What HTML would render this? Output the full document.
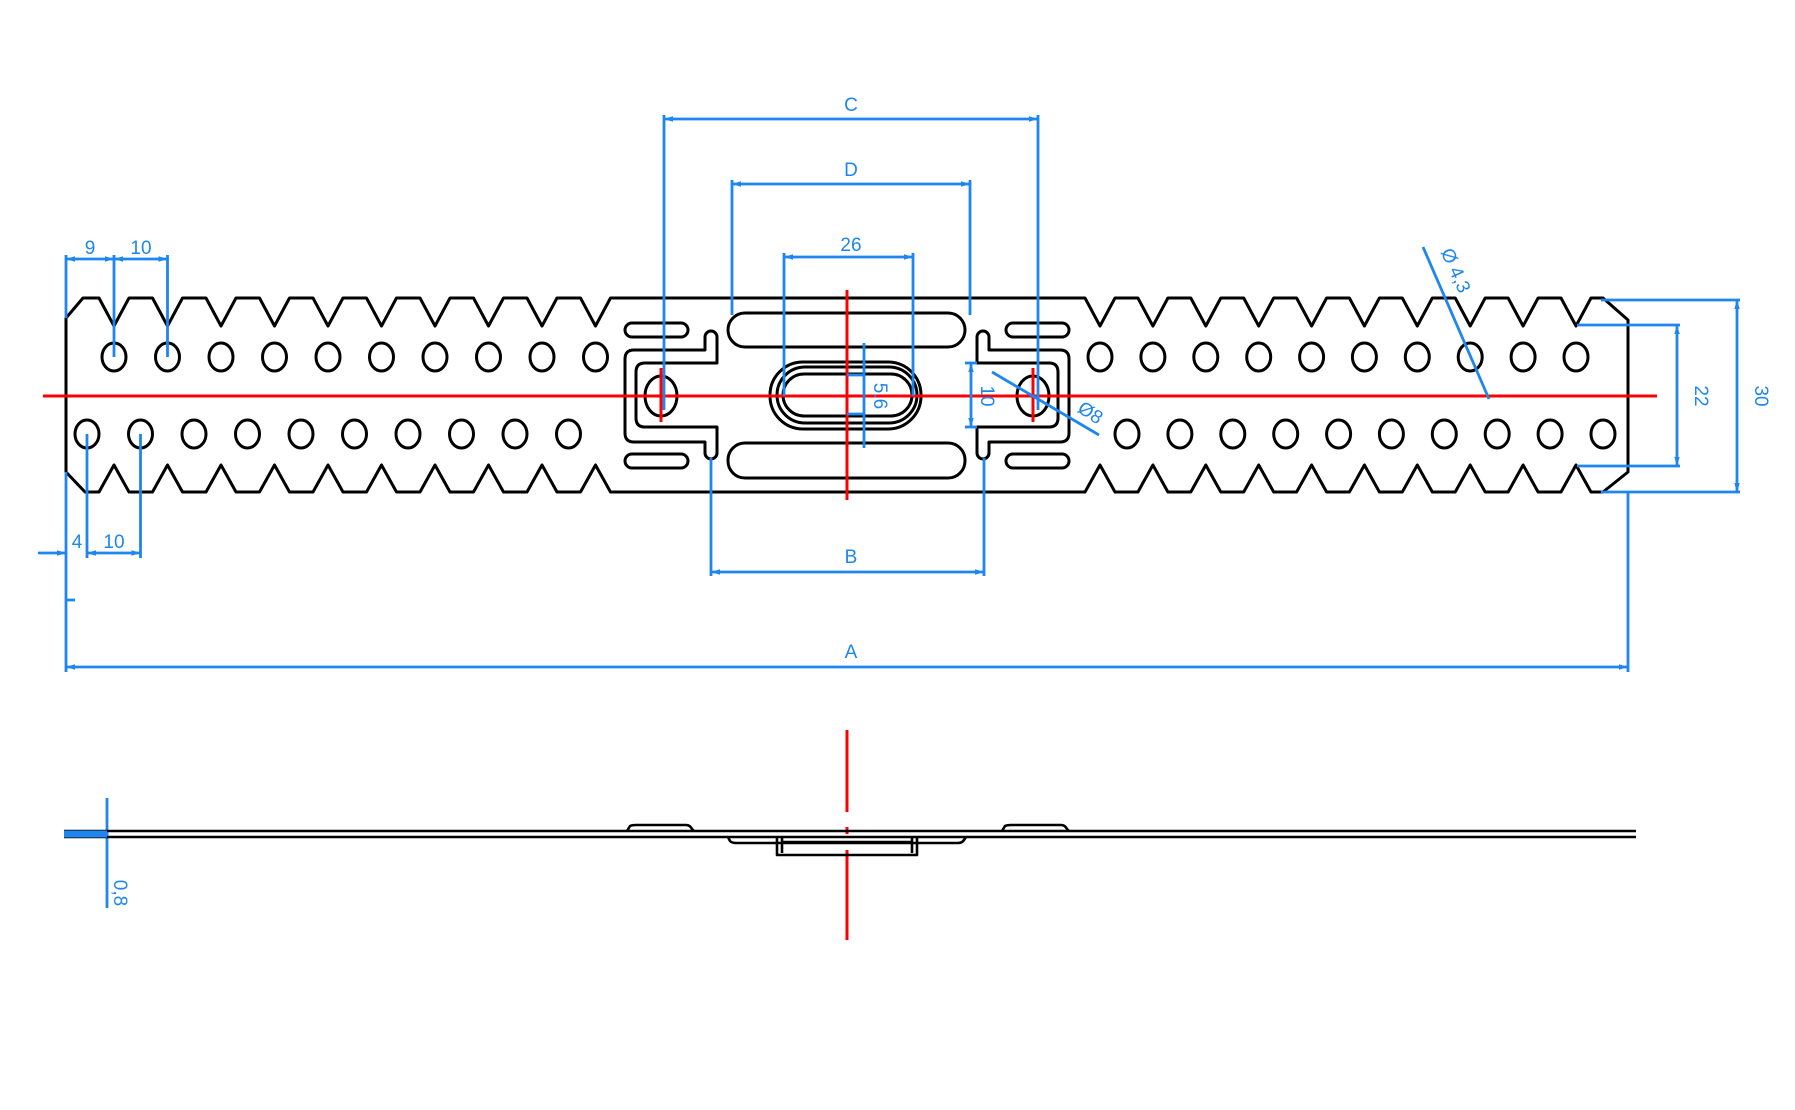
<!DOCTYPE html>
<html><head><meta charset="utf-8"><style>
html,body{margin:0;padding:0;background:#fff;}
svg{display:block;}
text{font-family:"Liberation Sans",sans-serif;font-size:19px;fill:#1e86ee;}
</style></head><body>
<svg width="1795" height="1110" viewBox="0 0 1795 1110" xmlns="http://www.w3.org/2000/svg">
<defs>
<marker id="ar" viewBox="0 0 10 10" refX="10" refY="5" markerWidth="9" markerHeight="9" orient="auto-start-reverse" markerUnits="userSpaceOnUse"><path d="M0,2 L10,5 L0,8 Z" fill="#1e86ee"/></marker>
</defs>
<rect width="1795" height="1110" fill="#fff"/>
<g fill="none" stroke="#000" stroke-width="3" stroke-linejoin="round">
<path d="M66,318 L83,298 L99,298 L114,326 L129,298 L152.5,298 L167.5,326 L182.5,298 L206,298 L221,326 L236,298 L259.5,298 L274.5,326 L289.5,298 L313,298 L328,326 L343,298 L366.5,298 L381.5,326 L396.5,298 L420,298 L435,326 L450,298 L473.5,298 L488.5,326 L503.5,298 L527,298 L542,326 L557,298 L580.5,298 L595.5,326 L610.5,298
L1085,298 L1100,326 L1115,298 L1137.9,298 L1152.9,326 L1167.9,298 L1190.8,298 L1205.8,326 L1220.8,298 L1243.7,298 L1258.7,326 L1273.7,298 L1296.6,298 L1311.6,326 L1326.6,298 L1349.4,298 L1364.4,326 L1379.4,298 L1402.3,298 L1417.3,326 L1432.3,298 L1455.2,298 L1470.2,326 L1485.2,298 L1508.1,298 L1523.1,326 L1538.1,298 L1561,298 L1576,326 L1591,298 L1603,298 L1628,320 L1628,472 L1603,492
L1591,492 L1576,465 L1561,492 L1538.1,492 L1523.1,465 L1508.1,492 L1485.2,492 L1470.2,465 L1455.2,492 L1432.3,492 L1417.3,465 L1402.3,492 L1379.4,492 L1364.4,465 L1349.4,492 L1326.6,492 L1311.6,465 L1296.6,492 L1273.7,492 L1258.7,465 L1243.7,492 L1220.8,492 L1205.8,465 L1190.8,492 L1167.9,492 L1152.9,465 L1137.9,492 L1115,492 L1100,465 L1085,492
L610.5,492 L595.5,465 L580.5,492 L557,492 L542,465 L527,492 L503.5,492 L488.5,465 L473.5,492 L450,492 L435,465 L420,492 L396.5,492 L381.5,465 L366.5,492 L343,492 L328,465 L313,492 L289.5,492 L274.5,465 L259.5,492 L236,492 L221,465 L206,492 L182.5,492 L167.5,465 L152.5,492 L129,492 L114,465 L99,492 L85,492 L66,472 Z"/>
<g>
<ellipse cx="114" cy="357" rx="12" ry="14"/><ellipse cx="167.5" cy="357" rx="12" ry="14"/><ellipse cx="221" cy="357" rx="12" ry="14"/><ellipse cx="274.5" cy="357" rx="12" ry="14"/><ellipse cx="328" cy="357" rx="12" ry="14"/><ellipse cx="381.5" cy="357" rx="12" ry="14"/><ellipse cx="435" cy="357" rx="12" ry="14"/><ellipse cx="488.5" cy="357" rx="12" ry="14"/><ellipse cx="542" cy="357" rx="12" ry="14"/><ellipse cx="595.5" cy="357" rx="12" ry="14"/>
<ellipse cx="87" cy="434" rx="12" ry="14"/><ellipse cx="140.5" cy="434" rx="12" ry="14"/><ellipse cx="194" cy="434" rx="12" ry="14"/><ellipse cx="247.5" cy="434" rx="12" ry="14"/><ellipse cx="301" cy="434" rx="12" ry="14"/><ellipse cx="354.5" cy="434" rx="12" ry="14"/><ellipse cx="408" cy="434" rx="12" ry="14"/><ellipse cx="461.5" cy="434" rx="12" ry="14"/><ellipse cx="515" cy="434" rx="12" ry="14"/><ellipse cx="568.5" cy="434" rx="12" ry="14"/>
<ellipse cx="1100" cy="357" rx="12" ry="14"/><ellipse cx="1152.9" cy="357" rx="12" ry="14"/><ellipse cx="1205.8" cy="357" rx="12" ry="14"/><ellipse cx="1258.7" cy="357" rx="12" ry="14"/><ellipse cx="1311.6" cy="357" rx="12" ry="14"/><ellipse cx="1364.4" cy="357" rx="12" ry="14"/><ellipse cx="1417.3" cy="357" rx="12" ry="14"/><ellipse cx="1470.2" cy="357" rx="12" ry="14"/><ellipse cx="1523.1" cy="357" rx="12" ry="14"/><ellipse cx="1576" cy="357" rx="12" ry="14"/>
<ellipse cx="1127" cy="434" rx="12" ry="14"/><ellipse cx="1179.9" cy="434" rx="12" ry="14"/><ellipse cx="1232.8" cy="434" rx="12" ry="14"/><ellipse cx="1285.7" cy="434" rx="12" ry="14"/><ellipse cx="1338.6" cy="434" rx="12" ry="14"/><ellipse cx="1391.4" cy="434" rx="12" ry="14"/><ellipse cx="1444.3" cy="434" rx="12" ry="14"/><ellipse cx="1497.2" cy="434" rx="12" ry="14"/><ellipse cx="1550.1" cy="434" rx="12" ry="14"/><ellipse cx="1603" cy="434" rx="12" ry="14"/>
</g>
<g>
<path d="M717,363 L717,337 A6,6 0 0 0 705,337 L705,350 L634,350 Q625,350 625,359 L625,433 Q625,442 634,442 L705,442 L705,453 A6,6 0 0 0 717,453 L717,427 L645,427 Q636,427 636,418 L636,372 Q636,363 645,363 Z"/>
<rect x="625" y="323" width="63" height="14" rx="7"/>
<rect x="625" y="454" width="63" height="14" rx="7"/>
<ellipse cx="661" cy="396" rx="16" ry="20"/>
</g>
<g transform="translate(1694,0) scale(-1,1)">
<path d="M717,363 L717,337 A6,6 0 0 0 705,337 L705,350 L634,350 Q625,350 625,359 L625,433 Q625,442 634,442 L705,442 L705,453 A6,6 0 0 0 717,453 L717,427 L645,427 Q636,427 636,418 L636,372 Q636,363 645,363 Z"/>
<rect x="625" y="323" width="63" height="14" rx="7"/>
<rect x="625" y="454" width="63" height="14" rx="7"/>
<ellipse cx="661" cy="396" rx="16" ry="20"/>
</g>
<rect x="728" y="313" width="237" height="34" rx="17"/>
<rect x="728" y="443" width="237" height="35" rx="17"/>
<rect x="770" y="362" width="151" height="67" rx="33"/>
<rect x="777" y="367" width="140" height="56" rx="28"/>
<rect x="783" y="374" width="129" height="42" rx="21"/>
</g>
<g stroke="#f00" stroke-width="3" fill="none">
<line x1="43" y1="396" x2="1657" y2="396"/>
<line x1="847" y1="290" x2="847" y2="500"/>
<line x1="661" y1="368" x2="661" y2="422"/>
<line x1="1033" y1="368" x2="1033" y2="422"/>
<line x1="847" y1="730" x2="847" y2="812"/>
<line x1="847" y1="827" x2="847" y2="834"/>
<line x1="847" y1="850" x2="847" y2="940"/>
</g>
<g stroke="#1e86ee" stroke-width="2.8" fill="none">
<line x1="664" y1="115" x2="664" y2="410"/><line x1="1038" y1="115" x2="1038" y2="410"/>
<line x1="664" y1="119" x2="1038" y2="119" marker-start="url(#ar)" marker-end="url(#ar)"/>
<line x1="732" y1="180" x2="732" y2="315"/><line x1="970" y1="180" x2="970" y2="315"/>
<line x1="732" y1="184" x2="970" y2="184" marker-start="url(#ar)" marker-end="url(#ar)"/>
<line x1="784" y1="253" x2="784" y2="396"/><line x1="913" y1="253" x2="913" y2="396"/>
<line x1="784" y1="257" x2="913" y2="257" marker-start="url(#ar)" marker-end="url(#ar)"/>
<line x1="711" y1="458" x2="711" y2="576"/><line x1="984" y1="458" x2="984" y2="576"/>
<line x1="711" y1="572" x2="984" y2="572" marker-start="url(#ar)" marker-end="url(#ar)"/>
<line x1="66" y1="255" x2="66" y2="318"/><line x1="66" y1="472" x2="66" y2="672"/>
<line x1="1628" y1="492" x2="1628" y2="672"/>
<line x1="66" y1="667" x2="1628" y2="667" marker-start="url(#ar)" marker-end="url(#ar)"/>
<line x1="114" y1="255" x2="114" y2="357"/><line x1="167.5" y1="255" x2="167.5" y2="357"/>
<line x1="66" y1="259" x2="114" y2="259" marker-start="url(#ar)" marker-end="url(#ar)"/>
<line x1="114" y1="259" x2="167.5" y2="259" marker-start="url(#ar)" marker-end="url(#ar)"/>
<line x1="87" y1="434" x2="87" y2="558"/><line x1="140.5" y1="434" x2="140.5" y2="558"/>
<line x1="38" y1="553" x2="66" y2="553" marker-end="url(#ar)"/>
<line x1="87" y1="553" x2="140.5" y2="553" marker-start="url(#ar)" marker-end="url(#ar)"/>
<line x1="66" y1="600" x2="75" y2="600"/>
<line x1="864" y1="343" x2="864" y2="448"/>
<line x1="847" y1="375" x2="864" y2="375"/><line x1="847" y1="414" x2="864" y2="414"/>
<line x1="971" y1="363" x2="971" y2="427" marker-start="url(#ar)" marker-end="url(#ar)"/>
<line x1="965" y1="363" x2="977" y2="363"/><line x1="965" y1="427" x2="977" y2="427"/>
<line x1="992" y1="372" x2="1099" y2="435"/>
<line x1="1423" y1="247" x2="1489" y2="399"/>
<line x1="1577" y1="325" x2="1680" y2="325"/><line x1="1577" y1="466" x2="1680" y2="466"/>
<line x1="1677" y1="325" x2="1677" y2="466" marker-start="url(#ar)" marker-end="url(#ar)"/>
<line x1="1601" y1="300" x2="1740" y2="300"/><line x1="1601" y1="492" x2="1740" y2="492"/>
<line x1="1737" y1="300" x2="1737" y2="492" marker-start="url(#ar)" marker-end="url(#ar)"/>
<line x1="107" y1="798" x2="107" y2="908"/>
</g>
<g fill="none" stroke="#000" stroke-width="2.6" stroke-linejoin="round">
<line x1="64" y1="831" x2="1636" y2="831"/>
<line x1="64" y1="837" x2="1636" y2="837"/>
<path d="M627,831 L630,826 Q632,825 636,825 L686,825 Q690,825 692,829 L694,831"/>
<path d="M1002,831 L1005,826 Q1007,825 1011,825 L1061,825 Q1065,825 1067,829 L1069,831"/>
<path d="M728,837 L730,841 Q732,843 736,843 L958,843 Q962,843 964,840 L966,837"/>
<path d="M777,837 L777,855 L917,855 L917,837"/>
<line x1="782" y1="837" x2="782" y2="853"/><line x1="912" y1="837" x2="912" y2="853"/>
<line x1="782" y1="842" x2="912" y2="842"/>
</g>
<line x1="64" y1="834" x2="107" y2="834" stroke="#1e86ee" stroke-width="7"/>
<text x="851" y="111" text-anchor="middle">C</text>
<text x="851" y="176" text-anchor="middle">D</text>
<text x="851" y="251" text-anchor="middle">26</text>
<text x="851" y="563" text-anchor="middle">B</text>
<text x="851" y="658" text-anchor="middle">A</text>
<text x="90" y="254" text-anchor="middle">9</text>
<text x="141" y="254" text-anchor="middle">10</text>
<text x="77" y="548" text-anchor="middle">4</text>
<text x="114" y="548" text-anchor="middle">10</text>
<text transform="translate(874,396) rotate(90)" text-anchor="middle">5.6</text>
<text transform="translate(981,396) rotate(90)" text-anchor="middle">10</text>
<text transform="translate(1087,418) rotate(33)" text-anchor="middle">Ø8</text>
<text transform="translate(1450,273) rotate(66)" text-anchor="middle">Ø 4,3</text>
<text transform="translate(1695,396) rotate(90)" text-anchor="middle">22</text>
<text transform="translate(1755,396) rotate(90)" text-anchor="middle">30</text>
<text transform="translate(114,893) rotate(90)" text-anchor="middle">0,8</text>
</svg>
</body></html>
